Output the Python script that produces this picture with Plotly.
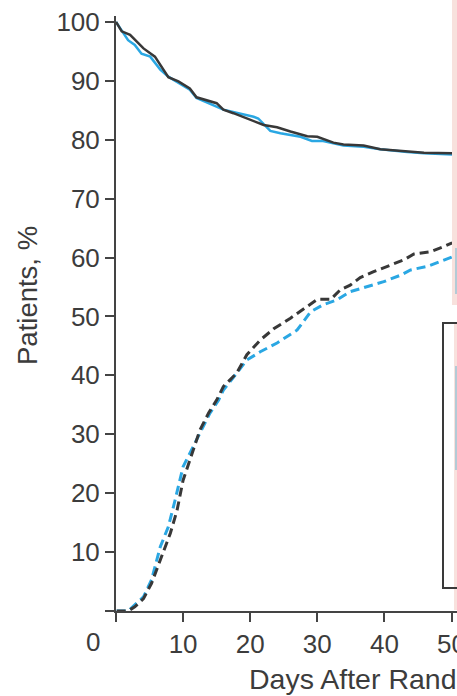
import plotly.graph_objects as go

# ---- data ----
solid_black_days = [0, 0.85, 2.1, 4.1, 5.8, 7.8, 9.3, 11.0, 12.0, 15.0, 16.0, 17.5, 22.0, 24.0,
                    26.0, 28.5, 30.0, 32.4, 33.9, 36.9, 39.4, 43.4, 45.9, 50.1]
solid_black_vals = [100, 98.4, 97.8, 95.5, 94.1, 90.6, 89.9, 88.7, 87.2, 86.2, 85.1, 84.5, 82.5, 82.1,
                    81.4, 80.6, 80.5, 79.5, 79.2, 79.0, 78.4, 78.0, 77.8, 77.7]

solid_blue_days = [0, 1.8, 2.8, 3.8, 5.1, 6.6, 7.8, 9.8, 11.0, 12.0, 14.5, 16.0, 20.5, 21.2, 23.0,
                   24.5, 27.5, 29.2, 30.7, 32.4, 33.9, 36.9, 39.4, 43.4, 45.9, 50.1]
solid_blue_vals = [100, 96.9, 96.1, 94.6, 94.1, 91.9, 90.7, 89.3, 88.5, 87.1, 85.8, 85.1, 83.9, 83.6, 81.5,
                   81.1, 80.5, 79.8, 79.8, 79.4, 79.0, 78.8, 78.4, 77.9, 77.7, 77.5]

dash_black_days = [0.1, 1.8, 2.8, 4.1, 5.3, 6.8, 8.1, 9.1, 10.0, 11.5, 12.5, 13.8, 15.0, 16.0, 18.0,
                   19.5, 21.5, 23.5, 26.0, 28.5, 30.0, 32.0, 33.4, 34.9, 36.4, 38.4, 40.9, 42.9, 44.4,
                   46.9, 48.9, 50.1]
dash_black_vals = [0, 0, 0.7, 2.1, 4.7, 9.2, 13.2, 17.1, 22.2, 27.3, 30.7, 33.6, 35.8, 38.1, 40.4,
                   43.5, 46.0, 47.9, 49.7, 51.7, 52.9, 52.9, 54.5, 55.3, 56.6, 57.6, 58.7, 59.6, 60.6,
                   61.0, 61.9, 62.5]

dash_blue_days = [0.1, 1.8, 4.1, 5.3, 6.6, 7.8, 8.8, 10.0, 11.5, 13.0, 14.0, 15.3, 16.0, 18.0, 19.5,
                  21.5, 24.0, 27.0, 29.0, 30.9, 32.9, 34.9, 37.4, 39.9, 42.4, 43.9, 46.4, 48.4, 50.1]
dash_blue_vals = [0, 0, 2.4, 5.3, 10.9, 14.3, 18.8, 24.5, 27.9, 31.3, 33.6, 35.8, 37.5, 40.4, 42.6,
                  44.0, 45.5, 47.7, 50.8, 52.0, 52.8, 54.2, 55.1, 55.9, 57.0, 57.9, 58.5, 59.3, 60.1]

x_ticks = [0, 10, 20, 30, 40, 50]
x_ticktext = ["", "10", "20", "30", "40", "50"]
y_ticks = [0, 10, 20, 30, 40, 50, 60, 70, 80, 90, 100]
y_ticktext = ["", "10", "20", "30", "40", "50", "60", "70", "80", "90", "100"]

# ---- layout geometry ----
W, H = 457, 696
ML, MR, MT, MB = 116, 0, 16, 85
PW, PH = W - ML - MR, H - MT - MB
X_MAX = PW / 6.71
Y_MAX = 101

def px(xp):
    return (xp - ML) / PW

def py(yp):
    return (H - MB - yp) / PH

BLACK = "#383838"
BLUE = "#2aa7e3"
TXT = "#3c3c3c"
FONT = "Liberation Sans, Arial, sans-serif"
TICK_SIZE = 26

fig = go.Figure()
fig.add_trace(go.Scatter(x=dash_blue_days, y=dash_blue_vals, mode="lines",
                         line=dict(color=BLUE, width=3, dash="9px,5px")))
fig.add_trace(go.Scatter(x=dash_black_days, y=dash_black_vals, mode="lines",
                         line=dict(color=BLACK, width=3, dash="9px,5px")))
fig.add_trace(go.Scatter(x=solid_blue_days, y=solid_blue_vals, mode="lines",
                         line=dict(color=BLUE, width=2.5)))
fig.add_trace(go.Scatter(x=solid_black_days, y=solid_black_vals, mode="lines",
                         line=dict(color=BLACK, width=2.5)))

shapes = [
    dict(type="rect", xref="paper", yref="paper", x0=px(452), x1=px(458), y0=py(0), y1=py(305),
         fillcolor="#f8e1dd", line=dict(width=0), layer="above"),
    dict(type="rect", xref="paper", yref="paper", x0=px(455), x1=px(458), y0=py(248), y1=py(294),
         fillcolor="#b3cbd6", line=dict(width=0), layer="above"),
    dict(type="rect", xref="paper", yref="paper", x0=px(454), x1=px(458), y0=py(323), y1=py(610),
         fillcolor="#f8e1dd", line=dict(width=0), layer="above"),
    dict(type="rect", xref="paper", yref="paper", x0=px(455), x1=px(458), y0=py(366), y1=py(470),
         fillcolor="#b3cbd6", line=dict(width=0), layer="above"),
    dict(type="rect", xref="paper", yref="paper", x0=px(443), x1=px(480), y0=py(588), y1=py(323),
         fillcolor="rgba(0,0,0,0)", line=dict(color="#3a3a3a", width=2), layer="above"),
]

annotations = [
    dict(text="0", xref="paper", yref="paper", x=px(93), y=py(642), showarrow=False,
         xanchor="center", yanchor="middle", font=dict(size=TICK_SIZE, color=TXT, family=FONT)),
    dict(text="Days After Randomization", xref="paper", yref="paper", x=px(247), y=py(679),
         showarrow=False, xanchor="left", yanchor="middle",
         font=dict(size=28.5, color=TXT, family=FONT)),
    dict(text="Patients, %", xref="paper", yref="paper", x=px(27), y=py(296), textangle=-90,
         showarrow=False, xanchor="center", yanchor="middle",
         font=dict(size=27.5, color=TXT, family=FONT)),
]

fig.update_layout(
    width=W, height=H,
    margin=dict(l=ML, r=MR, t=MT, b=MB, pad=0, autoexpand=False),
    paper_bgcolor="white", plot_bgcolor="white",
    showlegend=False,
    shapes=shapes, annotations=annotations,
    font=dict(family=FONT, color=TXT),
)
fig.update_xaxes(range=[0, X_MAX], tickvals=x_ticks, ticktext=x_ticktext, automargin=False,
                 ticklabeloverflow="allow",
                 showgrid=False, zeroline=False, showline=True, linecolor="#444", linewidth=2,
                 ticks="outside", ticklen=9, tickwidth=2, tickcolor="#444",
                 tickfont=dict(size=TICK_SIZE, color=TXT, family=FONT))
fig.update_yaxes(range=[0, Y_MAX], tickvals=y_ticks, ticktext=y_ticktext, automargin=False,
                 ticklabeloverflow="allow",
                 showgrid=False, zeroline=False, showline=True, linecolor="#444", linewidth=2,
                 ticks="outside", ticklen=9, tickwidth=2, tickcolor="#444",
                 tickfont=dict(size=TICK_SIZE, color=TXT, family=FONT))

fig.write_html(
    "out.html",
    config={"displayModeBar": False, "staticPlot": True},
    post_script="document.body.style.margin='0px';document.body.style.overflow='hidden';",
)
